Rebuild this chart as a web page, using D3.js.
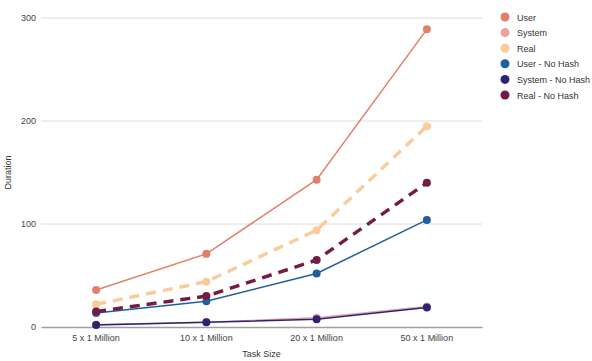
<!DOCTYPE html>
<html>
<head>
<meta charset="utf-8">
<script src="https://cdn.jsdelivr.net/npm/d3@7"></script>
<style>
  body { margin: 0; background: #fff; }
  svg { font-family: Arial, "Liberation Sans", sans-serif; }
</style>
</head>
<body>
<div id="chart"></div>
<script>
const categories = ['5 x 1 Million', '10 x 1 Million', '20 x 1 Million', '50 x 1 Million']
const yTicks = [0, 100, 200, 300]

const userValues = [36, 71, 143, 289]
const systemValues = [2.5, 4.5, 9, 20]
const realValues = [22, 44, 94, 195]
const userNoHashValues = [13.5, 25, 52, 104]
const systemNoHashValues = [2, 4.5, 7.5, 19]
const realNoHashValues = [15, 30, 65, 140]

const seriesNames = ['User', 'System', 'Real', 'User - No Hash', 'System - No Hash', 'Real - No Hash']
const seriesValues = [userValues, systemValues, realValues, userNoHashValues, systemNoHashValues, realNoHashValues]

const colors = ['#e0806a', '#eaa3a3', '#fbcb9c', '#1f5f9e', '#2c2473', '#731c45']
const dashed = [false, false, true, false, false, true]

const width = 592
const height = 361
const margin = { top: 18, right: 110, bottom: 34, left: 41 }

const svg = d3.select('#chart').append('svg').attr('width', width).attr('height', height)

const x = d3.scaleBand().domain(categories).range([margin.left, width - margin.right])
const y = d3.scaleLinear().domain([0, 300]).range([height - margin.bottom, margin.top])

// gridlines
svg.append('g')
  .selectAll('line')
  .data(yTicks.filter(d => d > 0))
  .enter()
  .append('line')
  .attr('x1', margin.left)
  .attr('x2', width - margin.right)
  .attr('y1', d => y(d))
  .attr('y2', d => y(d))
  .attr('stroke', '#dcdcdc')
  .attr('stroke-width', 1)

// y axis labels
const yAxis = d3.axisLeft(y).tickValues(yTicks).tickSize(0).tickPadding(5)
svg.append('g')
  .attr('transform', `translate(${margin.left},0)`)
  .call(yAxis)
  .call(g => g.select('.domain').remove())
  .call(g => g.selectAll('text').attr('fill', '#444').attr('font-size', 9))

// x axis
const xAxis = d3.axisBottom(x).tickSize(0).tickPadding(8)
svg.append('g')
  .attr('transform', `translate(0,${y(0)})`)
  .call(xAxis)
  .call(g => g.select('.domain').attr('stroke', '#a0a0a0').attr('stroke-width', 1.5))
  .call(g => g.selectAll('text').attr('fill', '#444').attr('font-size', 9))

// axis titles
svg.append('text')
  .attr('transform', `translate(11,${(y(0) + y(300)) / 2}) rotate(-90)`)
  .attr('text-anchor', 'middle')
  .attr('font-size', 9)
  .attr('fill', '#333')
  .text('Duration')

svg.append('text')
  .attr('x', (margin.left + width - margin.right) / 2)
  .attr('y', 357)
  .attr('text-anchor', 'middle')
  .attr('font-size', 9)
  .attr('fill', '#333')
  .text('Task Size')

const line = d3.line()
  .x((d, i) => x(categories[i]) + x.bandwidth() / 2)
  .y(d => y(d))

const drawOrder = [0, 2, 1, 3, 5, 4]
drawOrder.forEach(s => {
  const g = svg.append('g')
  g.append('path')
    .datum(seriesValues[s])
    .attr('d', line)
    .attr('fill', 'none')
    .attr('stroke', colors[s])
    .attr('stroke-width', dashed[s] ? 3.5 : 1.5)
    .attr('stroke-dasharray', dashed[s] ? '10,7' : null)
  g.selectAll('circle')
    .data(seriesValues[s])
    .enter()
    .append('circle')
    .attr('cx', (d, i) => x(categories[i]) + x.bandwidth() / 2)
    .attr('cy', d => y(d))
    .attr('r', 4)
    .attr('fill', colors[s])
})

// legend
const legend = svg.append('g').attr('transform', 'translate(505,17)')
seriesNames.forEach((name, i) => {
  legend.append('circle')
    .attr('cx', 0)
    .attr('cy', i * 15.6)
    .attr('r', 4.5)
    .attr('fill', colors[i])
  legend.append('text')
    .attr('x', 12)
    .attr('y', i * 15.6 + 3.5)
    .attr('font-size', 9)
    .attr('fill', '#333')
    .text(name)
})
</script>
</body>
</html>
